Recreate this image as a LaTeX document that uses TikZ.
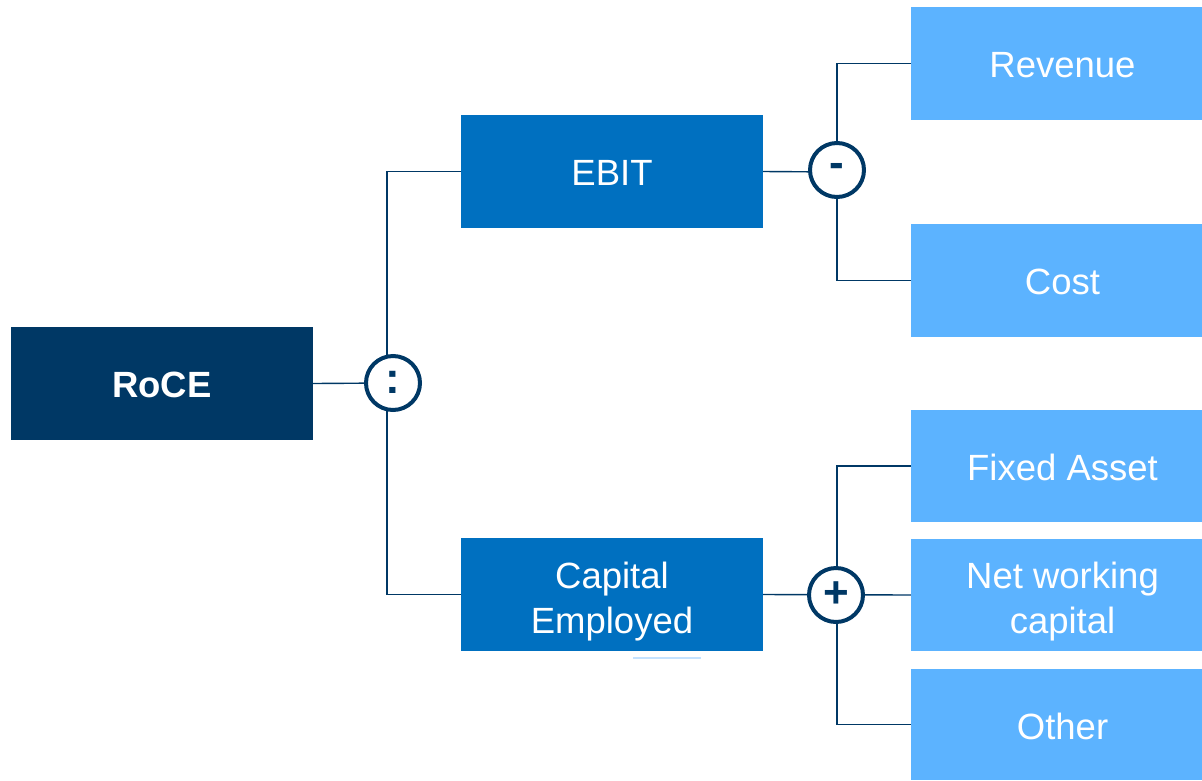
\documentclass[tikz,border=0pt]{standalone}
\usepackage{fontspec}
\setmainfont{Liberation Sans}
\definecolor{navy}{HTML}{003865}
\definecolor{midblue}{HTML}{0070C0}
\definecolor{lightblue}{HTML}{5CB3FF}
\definecolor{paleline}{HTML}{C4E2FF}
\begin{document}
\begin{tikzpicture}[x=1pt,y=-1pt,
  box/.style={rectangle, draw=none, minimum height=113pt, inner sep=0pt},
  lbl/.style={text=white, align=center, inner sep=0pt,
    font=\fontsize{36.5}{45}\selectfont},
  boldlbl/.style={lbl, font=\fontsize{36.5}{45}\selectfont\bfseries},
  txt/.style n args={3}{label={[lbl,xshift=#1,yshift=#2]center:{#3}}},
  rootbox/.style={box, fill=navy, minimum width=302pt},
  midbox/.style={box, fill=midblue, minimum width=302pt},
  leafbox/.style={box, fill=lightblue, minimum width=291pt},
  op/.style={circle, draw=navy, line width=4pt, fill=white, text=navy,
    minimum size=54pt, inner sep=0pt,
    font=\fontsize{44}{44}\selectfont\bfseries},
  link/.style={draw=navy, line width=1.4pt}]
\useasboundingbox (0,0) rectangle (1202,780);

% boxes
\node[rootbox, label={[boldlbl,yshift=-1.5pt]center:RoCE}] (roce) at (162,383.5) {};
\node[midbox, txt={0pt}{-1.5pt}{EBIT}] (ebit) at (612,171.5) {};
\node[midbox, txt={0pt}{-7pt}{Capital\\Employed}] (ce) at (612,594.5) {};
\node[leafbox, txt={6pt}{-1.5pt}{Revenue}] (rev)  at (1056.5,63.5)  {};
\node[leafbox, txt={6pt}{-1.5pt}{Cost}]    (cost) at (1056.5,280.5) {};
\node[leafbox, minimum height=112pt, txt={6pt}{-1.5pt}{Fixed Asset}] (fa) at (1056.5,466) {};
\node[leafbox, minimum height=112pt, txt={6pt}{-7pt}{Net working\\capital}] (nwc) at (1056.5,595) {};
\node[leafbox, minimum height=111pt, txt={6pt}{-1.5pt}{Other}] (oth) at (1056.5,724.5) {};

% junction points
\coordinate (j1) at (387,383);
\coordinate (j2) at (837,172);
\coordinate (j3) at (837,595);

% connectors
\draw[link] (roce.east) -- (j1);
\draw[link] (ebit.west) -| (j1) |- (ce.west);
\draw[link] (ebit.east) -- (j2);
\draw[link] (rev.west) -| (j2) |- (cost.west);
\draw[link] (ce.east) -- (nwc.west);
\draw[link] (fa.west) -| (j3) |- (oth.west);

% operators
\node[op] (div)   at (393,383) {\raisebox{2pt}{:}};
\node[op] (minus) at (837,170) {\raisebox{-2pt}{-}};
\node[op] (plus)  at (836,595) {+};

% thin rule below the capital box
\draw[paleline, line width=1.5pt] (633,658) -- (701,658);
\end{tikzpicture}
\end{document}
